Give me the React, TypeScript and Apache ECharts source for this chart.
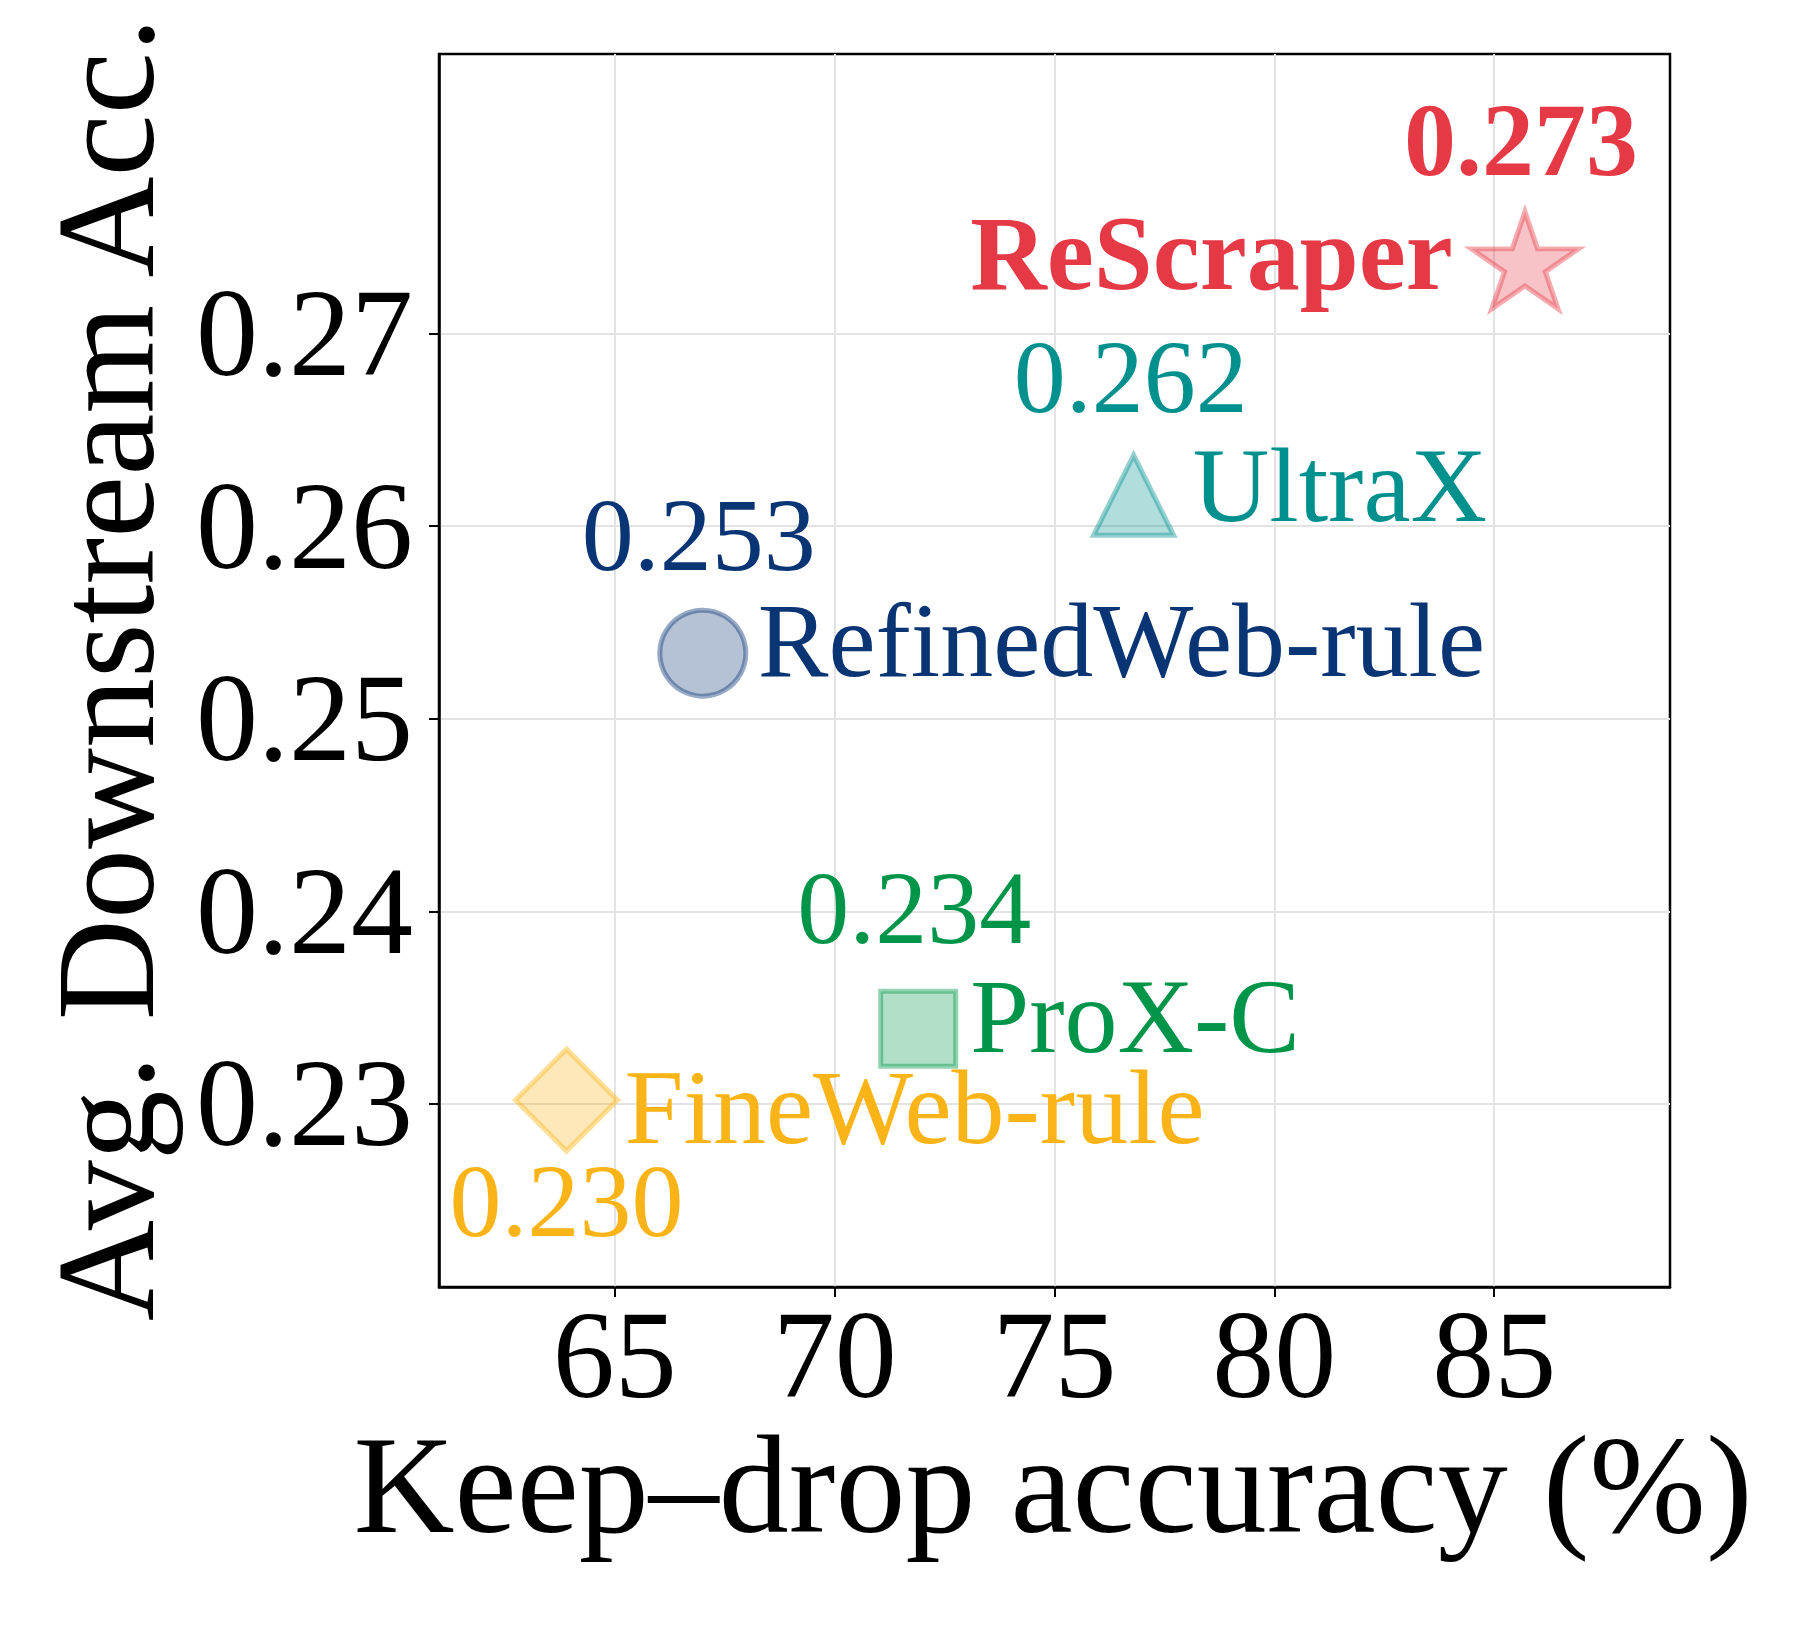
import React, { useEffect, useRef } from 'react';
import * as echarts from 'echarts';

// ---- data ----
const methods = ['ReScraper', 'UltraX', 'RefinedWeb-rule', 'ProX-C', 'FineWeb-rule'];
const keepDropAcc = [85.7, 76.8, 67.0, 71.9, 63.9];
const avgDownstreamAcc = [0.2735, 0.2616, 0.2534, 0.2339, 0.2302];
const valueLabels = ['0.273', '0.262', '0.253', '0.234', '0.230'];
const xTicks = [65, 70, 75, 80, 85];
const yTicks = [0.23, 0.24, 0.25, 0.26, 0.27];
const xTitle = 'Keep\u2013drop accuracy (%)';
const yTitle = 'Avg. Downstream Acc.';

// ---- styles ----
const FONT = '"Liberation Serif", "Times New Roman", Times, serif';

function starPath(): string {
  const pts: string[] = [];
  for (let i = 0; i < 10; i++) {
    const r = i % 2 === 0 ? 1 : 0.381966;
    const ang = -Math.PI / 2 + (i * Math.PI) / 5;
    pts.push(`${(r * Math.cos(ang)).toFixed(4)} ${(r * Math.sin(ang)).toFixed(4)}`);
  }
  return 'path://M' + pts.join(' L') + ' Z';
}

function rgba(hex: string, a: number): string {
  const n = parseInt(hex.slice(1), 16);
  return `rgba(${(n >> 16) & 255},${(n >> 8) & 255},${n & 255},${a})`;
}

const markerStyles = [
  { color: '#E63946', symbol: starPath(), size: [107, 102], symOff: [0, -5.6], align: 'right', nameOff: [-72, -12], valOff: [-4, -126], bold: true },
  { color: '#00908E', symbol: 'triangle', size: [80, 80], symOff: [0, 0], align: 'left', nameOff: [59, -10], valOff: [-3, -119], bold: false },
  { color: '#0A3574', symbol: 'circle', size: [86, 86], symOff: [0, 0], align: 'left', nameOff: [55, -13], valOff: [-4, -119], bold: false },
  { color: '#009548', symbol: 'rect', size: [75, 75], symOff: [0, 0], align: 'left', nameOff: [52, -12], valOff: [-4, -121], bold: false },
  { color: '#FBB417', symbol: 'diamond', size: [102, 102], symOff: [0, 0], align: 'left', nameOff: [58, 7], valOff: [0, 100], bold: false },
];

export default function App() {
  const ref = useRef<HTMLDivElement>(null);

  useEffect(() => {
    if (!ref.current) return;
    const chart = echarts.init(ref.current, undefined, { renderer: 'svg' });

    const markerData = methods.map((m, i) => {
      const s = markerStyles[i];
      return {
        name: m,
        value: [keepDropAcc[i], avgDownstreamAcc[i]],
        symbol: s.symbol,
        symbolSize: s.size,
        symbolOffset: s.symOff,
        symbolKeepAspect: true,
        itemStyle: {
          color: rgba(s.color, 0.3),
          borderColor: rgba(s.color, 0.42),
          borderWidth: 5,
          opacity: 1,
        },
        label: {
          show: true,
          position: 'inside',
          align: s.align,
          verticalAlign: 'middle',
          offset: [s.nameOff[0], s.nameOff[1] - s.symOff[1]],
          formatter: m,
          color: s.color,
          fontFamily: FONT,
          fontSize: 106,
          fontWeight: s.bold ? 'bold' : 'normal',
        },
      };
    });

    const valueData = methods.map((m, i) => {
      const s = markerStyles[i];
      return {
        name: m,
        value: [keepDropAcc[i], avgDownstreamAcc[i]],
        label: {
          show: true,
          position: 'inside',
          align: 'center',
          verticalAlign: 'middle',
          offset: s.valOff,
          formatter: valueLabels[i],
          color: s.color,
          fontFamily: FONT,
          fontSize: 104,
          fontWeight: s.bold ? 'bold' : 'normal',
        },
      };
    });

    chart.setOption({
      animation: false,
      backgroundColor: '#ffffff',
      grid: {
        left: 439,
        top: 54,
        width: 1231,
        height: 1233,
        show: true,
        borderColor: '#000000',
        borderWidth: 2.5,
        backgroundColor: 'transparent',
      },
      xAxis: {
        type: 'value',
        min: 61,
        max: 89,
        axisLine: { show: true, onZero: false, lineStyle: { color: '#000', width: 2.5 } },
        axisTick: { show: true, customValues: xTicks, length: 10, lineStyle: { color: '#000', width: 2 } },
        axisLabel: {
          customValues: xTicks,
          margin: 6,
          color: '#000',
          fontFamily: FONT,
          fontSize: 124,
          lineHeight: 124,
        },
        splitLine: { show: true, lineStyle: { color: '#e3e3e3', width: 2 } },
      },
      yAxis: {
        type: 'value',
        min: 0.2205,
        max: 0.2845,
        axisLine: { show: true, onZero: false, lineStyle: { color: '#000', width: 2.5 } },
        axisTick: { show: true, customValues: yTicks, length: 10, lineStyle: { color: '#000', width: 2 } },
        axisLabel: {
          customValues: yTicks,
          margin: 26,
          color: '#000',
          fontFamily: FONT,
          fontSize: 124,
          formatter: (v: number) => v.toFixed(2),
        },
        splitLine: { show: true, lineStyle: { color: '#e3e3e3', width: 2 } },
      },
      graphic: [
        {
          type: 'text',
          x: 1053,
          y: 1484,
          style: {
            text: xTitle,
            fill: '#000',
            font: `140px ${FONT}`,
            textAlign: 'center',
            textVerticalAlign: 'middle',
          },
        },
        {
          type: 'text',
          x: 105,
          y: 669,
          rotation: Math.PI / 2,
          style: {
            text: yTitle,
            fill: '#000',
            font: `140px ${FONT}`,
            textAlign: 'center',
            textVerticalAlign: 'middle',
          },
        },
      ],
      series: [
        {
          type: 'scatter',
          z: 3,
          itemStyle: { opacity: 1 },
          data: markerData,
        },
        {
          type: 'scatter',
          z: 4,
          symbolSize: 1,
          itemStyle: { color: 'rgba(0,0,0,0)', opacity: 1 },
          data: valueData,
        },
      ],
    });

    return () => chart.dispose();
  }, []);

  return (
    <div
      ref={ref}
      style={{ position: 'absolute', left: 0, top: 0, width: 1802, height: 1628 }}
    />
  );
}
